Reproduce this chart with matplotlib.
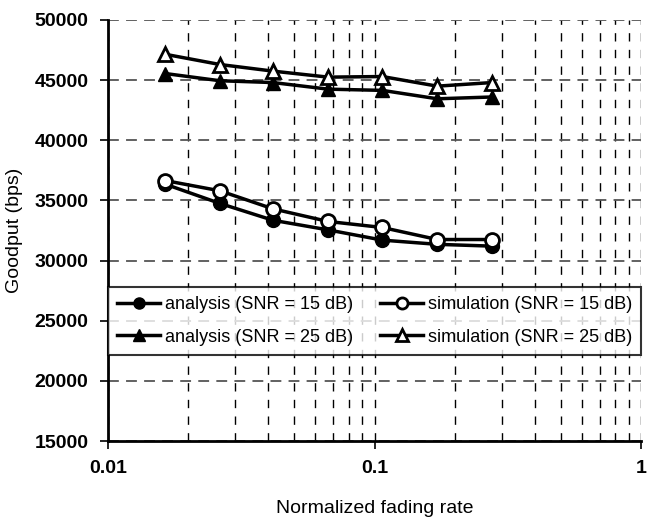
import numpy as np
import matplotlib.pyplot as plt
from matplotlib.ticker import FixedLocator, NullFormatter

# Dados
fading_rate = [0.0164, 0.0263, 0.0416, 0.067, 0.107, 0.172, 0.276]
analysis_15 = [36350, 34750, 33350, 32550, 31700, 31350, 31200]
simulation_15 = [36650, 35800, 34300, 33250, 32750, 31750, 31750]
analysis_25 = [45550, 44950, 44800, 44250, 44150, 43450, 43600]
simulation_25 = [47150, 46300, 45750, 45250, 45300, 44500, 44800]

plt.rcParams['font.family'] = ['Liberation Sans', 'DejaVu Sans']

fig = plt.figure(figsize=(6.55, 5.27), dpi=100)
ax = fig.add_axes([108 / 655, 1 - 441 / 527, 533 / 655, 421 / 527])

kw = dict(color='black', linewidth=2.5, markersize=10)
ax.plot(fading_rate, analysis_15, marker='o', label='analysis (SNR = 15 dB)', **kw)
ax.plot(fading_rate, analysis_25, marker='^', label='analysis (SNR = 25 dB)', **kw)
ax.plot(fading_rate, simulation_15, marker='o', markerfacecolor='white',
        markeredgewidth=2, label='simulation (SNR = 15 dB)', **kw)
ax.plot(fading_rate, simulation_25, marker='^', markerfacecolor='white',
        markeredgewidth=2, label='simulation (SNR = 25 dB)', **kw)

ax.set_xscale('log')
ax.set_xlim(0.01, 1)
ax.set_ylim(15000, 50000)
ax.set_yticks(np.arange(15000, 50001, 5000))
ax.set_xticks([0.01, 0.1, 1])
ax.set_xticklabels(['0.01', '0.1', '1'])
ax.xaxis.set_minor_locator(FixedLocator([k * d for d in [0.01, 0.1] for k in range(2, 10)]))
ax.xaxis.set_minor_formatter(NullFormatter())
ax.tick_params(axis='x', which='minor', length=0)
ax.tick_params(axis='both', which='major', direction='out', length=6, width=1.2,
               labelsize=14, pad=8)
for lab in ax.get_xticklabels() + ax.get_yticklabels():
    lab.set_fontweight('bold')

ax.grid(True, axis='x', which='both', linestyle=(0, (6, 6)), color='black', linewidth=1)
ax.grid(True, axis='y', which='major', linestyle=(0, (6, 4)), color='#555555', linewidth=1.3)

for s in ax.spines.values():
    s.set_visible(False)
ax.spines['left'].set_visible(True)
ax.spines['bottom'].set_visible(True)
ax.spines['left'].set_linewidth(2)
ax.spines['bottom'].set_linewidth(2)

ax.set_xlabel('Normalized fading rate', fontsize=14, labelpad=16)
ax.set_ylabel('Goodput (bps)', fontsize=14, labelpad=8)

leg = ax.legend(ncol=2, loc='upper left', bbox_to_anchor=(0.0, 0.365, 1.0, 0.0),
                mode='expand', fontsize=13, frameon=True, fancybox=False,
                edgecolor='black', handlelength=2.4, handletextpad=0.25,
                columnspacing=0.5, borderaxespad=0, labelspacing=0.85,
                borderpad=0.5, markerscale=0.8)
leg.get_frame().set_linewidth(1.5)

plt.savefig('out.png', dpi=100)
